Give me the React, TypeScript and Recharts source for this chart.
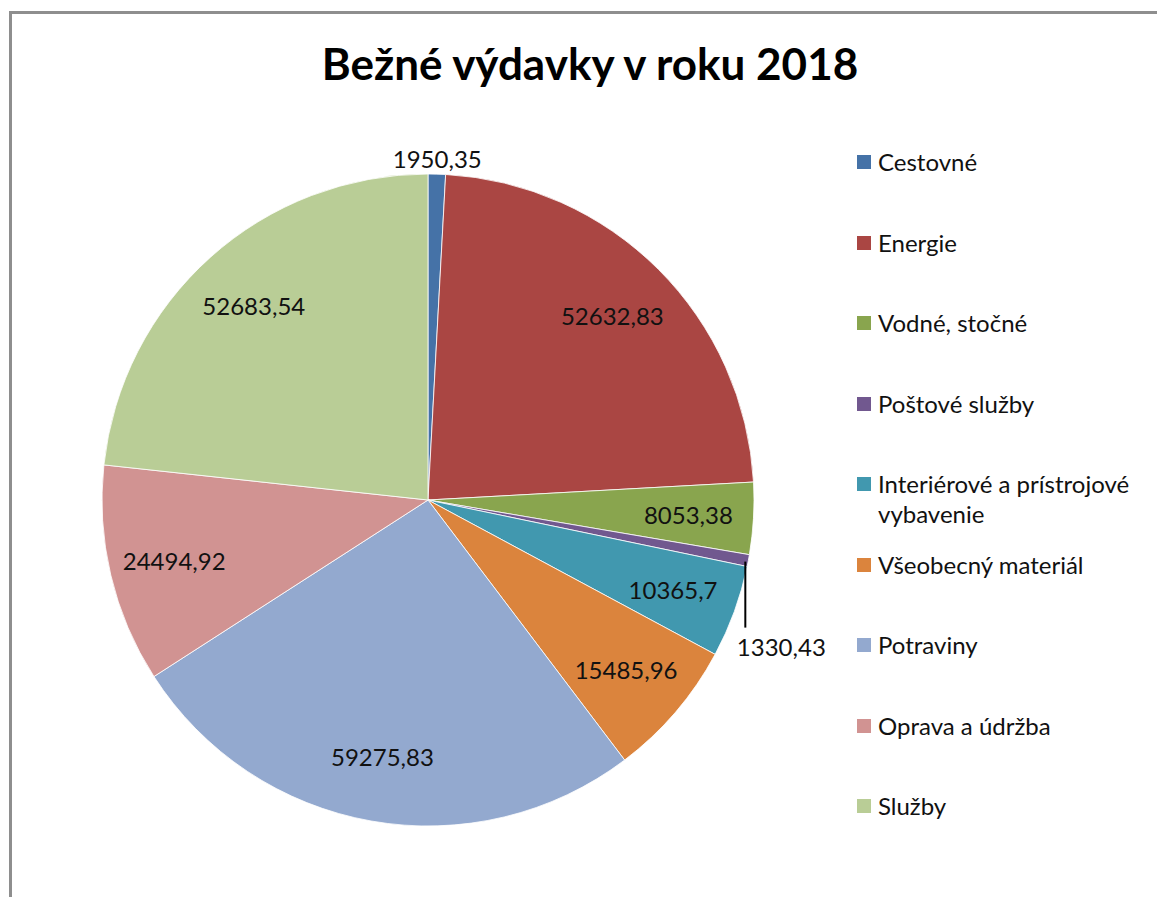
import { PieChart, Pie, Cell, Legend } from 'recharts';

const categories = [
    'Cestovné',
    'Energie',
    'Vodné, stočné',
    'Poštové služby',
    'Interiérové a prístrojové vybavenie',
    'Všeobecný materiál',
    'Potraviny',
    'Oprava a údržba',
    'Služby',
];
const amounts = [1950.35, 52632.83, 8053.38, 1330.43, 10365.7, 15485.96, 59275.83, 24494.92, 52683.54];
const colors = ['#4572A7', '#AA4643', '#89A54E', '#71588F', '#4198AF', '#DB843D', '#93A9CF', '#D19392', '#B9CD96'];

const data = categories.map((name, i) => ({ name, value: amounts[i] }));

const FONT = 'Lato, "Open Sans", sans-serif';
const RADIAN = Math.PI / 180;

const fmt = (v: number) => String(v).replace('.', ',');

function renderLabel(props: any) {
    const { cx, cy, midAngle, outerRadius, value, percent, index } = props;
    const cos = Math.cos(-midAngle * RADIAN);
    const sin = Math.sin(-midAngle * RADIAN);
    const text = fmt(value);

    if (percent > 0.02) {
        const r = outerRadius * 0.8;
        return (
            <text key={index} x={cx + r * cos} y={cy + r * sin} fill="#111" fontSize={24} fontFamily={FONT}
                textAnchor="middle" dominantBaseline="central">
                {text}
            </text>
        );
    }
    // small slices: label outside
    const ox = cx + outerRadius * cos;
    const oy = cy + outerRadius * sin;
    if (sin < -0.5) {
        // near the top
        const r = outerRadius + 16;
        return (
            <text key={index} x={cx + r * cos} y={cy + r * sin} fill="#111" fontSize={24} fontFamily={FONT}
                textAnchor="middle" dominantBaseline="central">
                {text}
            </text>
        );
    }
    // leader line straight down
    const lx = ox - 3;
    const ly = oy + 67;
    return (
        <g key={index}>
            <line x1={lx} y1={oy + 1} x2={lx} y2={ly} stroke="#000" strokeWidth={2} />
            <text x={lx + 36} y={ly + 19} fill="#111" fontSize={24} fontFamily={FONT}
                textAnchor="middle" dominantBaseline="central">
                {text}
            </text>
        </g>
    );
}

// legend keeps the data order (Recharts would sort the payload)
function LegendContent() {
    return (
        <div style={{ fontFamily: FONT, fontSize: 24, color: '#111' }}>
            {categories.map((name, i) => (
                <div key={name} style={{ height: 80.5, display: 'flex', alignItems: 'flex-start' }}>
                    <span style={{
                        display: 'inline-block', width: 14, height: 14, background: colors[i],
                        marginTop: 8, marginRight: 7, flex: 'none',
                    }} />
                    <span style={{ lineHeight: '30px', width: 270 }}>{name}</span>
                </div>
            ))}
        </div>
    );
}

export default function App() {
    return (
        <div style={{ position: 'absolute', left: 0, top: 0, width: 1157, height: 897, background: '#fff' }}>
            <div style={{
                position: 'absolute', left: 9, top: 11, width: 1148, height: 886,
                borderTop: '3px solid #8e8e8e', borderLeft: '3px solid #8e8e8e',
            }} />
            <div style={{
                position: 'absolute', left: 0, width: 1180, top: 36, textAlign: 'center',
                fontFamily: FONT, fontWeight: 700, fontSize: 44, color: '#000', lineHeight: '54px',
            }}>
                Bežné výdavky v roku 2018
            </div>
            <div style={{ position: 'absolute', left: 0, top: 0 }}>
                <PieChart width={1157} height={897}>
                    <Pie
                        data={data}
                        dataKey="value"
                        nameKey="name"
                        cx={423}
                        cy={495}
                        outerRadius={326}
                        startAngle={90}
                        endAngle={-270}
                        stroke="#fff"
                        strokeWidth={0.8}
                        label={renderLabel}
                        labelLine={false}
                        isAnimationActive={false}
                    >
                        {data.map((d, i) => (
                            <Cell key={d.name} fill={colors[i]} />
                        ))}
                    </Pie>
                    <Legend
                        layout="vertical"
                        content={<LegendContent />}
                        wrapperStyle={{ left: 857, top: 147, width: 300 }}
                    />
                </PieChart>
            </div>
        </div>
    );
}
